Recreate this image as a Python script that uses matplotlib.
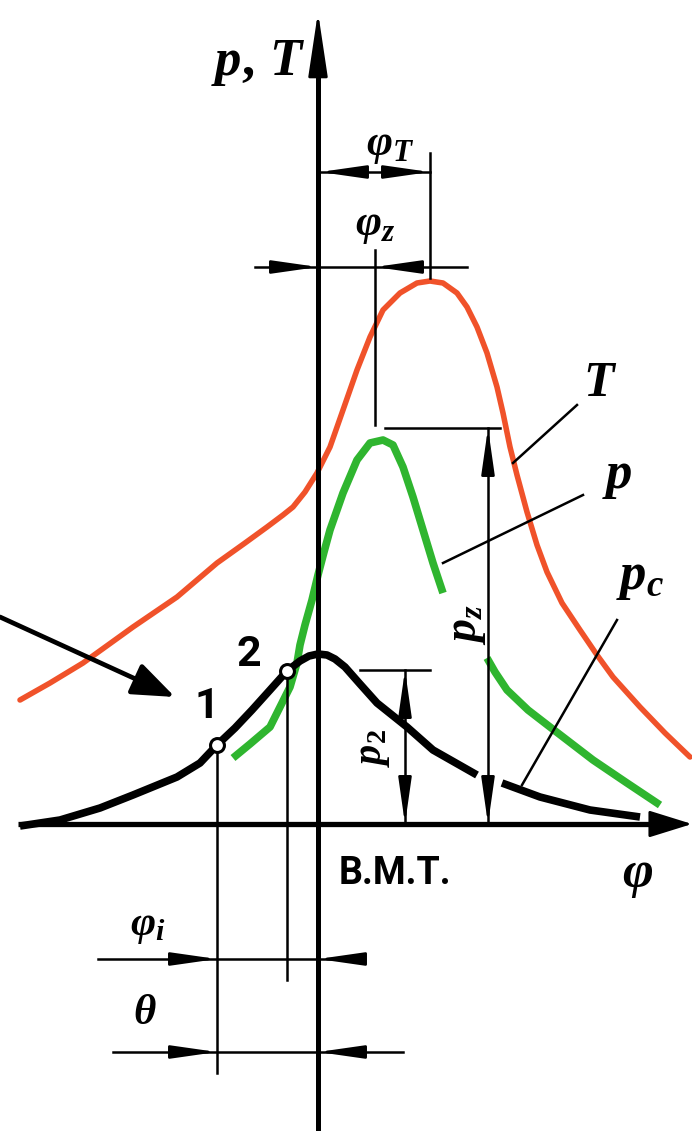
import numpy as np
import matplotlib.pyplot as plt

# diagram units: phi along x (0 = B.M.T.), p/T along y (0 = phi axis)
T_phi = [-298, -268, -235, -185, -141, -101, -73, -51, -35, -25, -13, -1, 12, 25, 39,
         52, 65, 82, 99, 112, 125, 139, 149, 159, 169, 179, 185, 192, 199, 209, 219,
         229, 244, 262, 279, 295, 322, 347, 372]
T_val = [124, 141, 161, 197, 227, 261, 281, 297, 309, 317, 332, 351, 377, 414, 454,
         487, 514, 531, 541, 543, 541, 531, 517, 497, 471, 437, 411, 377, 349, 312, 279,
         252, 221, 194, 169, 147, 117, 91, 67]

p1_phi = [-85, -68, -48, -38, -28, -21, -18, -13, -6, 0, 6, 12, 25, 39, 52, 65, 75,
          85, 95, 105, 115, 125]
p1_val = [66, 80, 97, 117, 137, 161, 179, 199, 224, 249, 272, 294, 331, 364, 381,
          384, 379, 357, 327, 294, 261, 231]
p2_phi = [169, 177, 189, 210, 232, 275, 309, 342]
p2_val = [166, 152, 134, 114, 97, 64, 41, 19]

pc1_phi = [-298, -258, -218, -185, -141, -118, -101, -83, -66, -48, -31, -18, -9, 0,
           9, 17, 27, 42, 59, 89, 115, 159]
pc1_val = [-2, 4, 16, 29, 47, 61, 79, 96, 114, 134, 153, 163, 168, 170,
           169, 165, 157, 140, 121, 97, 74, 49]
pc2_phi = [184, 222, 272, 322]
pc2_val = [41, 27, 14, 7]

pt_phi = [-101, -31]      # points 1 and 2
pt_val = [79, 153]

phi_T, phi_z, p_z, p_2 = 112, 57, 396, 154
phi_1, phi_2 = -101, -31

plt.rcParams['mathtext.fontset'] = 'custom'
plt.rcParams['mathtext.it'] = 'Liberation Serif:italic:bold'
plt.rcParams['mathtext.rm'] = 'Liberation Serif:bold'

fig = plt.figure(figsize=(6.92, 11.31), dpi=100)
ax = fig.add_axes([0, 0, 1, 1])
ax.set_xlim(-318, 374)
ax.set_ylim(-307, 824)
ax.axis('off')

RED = '#f0522a'
GREEN = '#2fb52f'
lw_dim = 1.8


def head(tip, base, hl=1.4, hw=0.2, lw=lw_dim, ms=20):
    ax.annotate('', xy=tip, xytext=base,
                arrowprops=dict(arrowstyle='-|>,head_length=%s,head_width=%s' % (hl, hw),
                                color='k', lw=lw, shrinkA=0, shrinkB=0,
                                mutation_scale=ms))


# axes
ax.plot([-300, 360], [0, 0], color='k', lw=3.8, solid_capstyle='butt', zorder=5)
ax.plot([0, 0], [-307, 790], color='k', lw=3.6, solid_capstyle='butt', zorder=5)
head((374, 0), (340, 0), hl=1.35, hw=0.42, lw=2)
head((0, 812), (0, 760), hl=2.0, hw=0.3, lw=2)

# curves
ax.plot(T_phi, T_val, color=RED, lw=4, solid_capstyle='round', solid_joinstyle='round')
ax.plot(p1_phi, p1_val, color=GREEN, lw=5.5, solid_capstyle='butt', solid_joinstyle='round')
ax.plot(p2_phi, p2_val, color=GREEN, lw=5.5, solid_capstyle='butt', solid_joinstyle='round')
ax.plot(pc1_phi, pc1_val, color='k', lw=5.5, solid_capstyle='butt', solid_joinstyle='round', zorder=4)
ax.plot(pc2_phi, pc2_val, color='k', lw=5.5, solid_capstyle='butt', solid_joinstyle='round', zorder=4)
ax.plot(pt_phi, pt_val, 'o', ms=10, mfc='white', mec='k', mew=2.2, zorder=6)

# phi_T dimension
ax.plot([0, phi_T], [652, 652], color='k', lw=lw_dim)
ax.plot([phi_T, phi_T], [671, 546], color='k', lw=lw_dim)
head((2, 652), (40, 652))
head((phi_T, 652), (phi_T - 38, 652))
# phi_z dimension
ax.plot([-63, 149], [557, 557], color='k', lw=lw_dim)
ax.plot([phi_z, phi_z], [574, 399], color='k', lw=lw_dim)
head((0, 557), (-38, 557))
head((phi_z, 557), (phi_z + 38, 557))
# p_z dimension
ax.plot([67, 182], [p_z, p_z], color='k', lw=lw_dim)
ax.plot([170, 170], [0, p_z], color='k', lw=lw_dim)
head((170, p_z), (170, p_z - 42))
head((170, 0), (170, 42))
# p_2 dimension
ax.plot([42, 112], [p_2, p_2], color='k', lw=lw_dim)
ax.plot([87, 87], [0, p_2], color='k', lw=lw_dim)
head((87, p_2), (87, p_2 - 40))
head((87, 0), (87, 40))
# lines down from points 1 and 2
ax.plot([phi_1, phi_1], [79, -249], color='k', lw=lw_dim)
ax.plot([phi_2, phi_2], [153, -156], color='k', lw=lw_dim)
# phi_i dimension
ax.plot([-220, 40], [-135, -135], color='k', lw=lw_dim)
head((phi_1, -135), (phi_1 - 42, -135))
head((0, -135), (30, -135))
# theta dimension
ax.plot([-205, 85], [-228, -228], color='k', lw=lw_dim)
head((phi_1, -228), (phi_1 - 40, -228))
head((0, -228), (42, -228))

# leaders
ax.plot([259, 195], [419, 361], color='k', lw=lw_dim)
ax.plot([265, 125], [329, 261], color='k', lw=lw_dim)
ax.plot([299, 204], [204, 39], color='k', lw=lw_dim)

# pointer arrow to point 1
head((-143, 127), (-318, 207), hl=1.3, hw=0.5, lw=3.4, ms=20)

lab = dict(ha='center', va='center', color='k')
ax.text(-60, 762, r'$p,\,T$', fontsize=38, **lab)
ax.text(72, 680, r'$\varphi_T$', fontsize=32, **lab)
ax.text(57, 600, r'$\varphi_z$', fontsize=32, **lab)
ax.text(282, 442, r'$T$', fontsize=36, **lab)
ax.text(299, 349, r'$p$', fontsize=38, **lab)
ax.text(322, 248, r'$p_c$', fontsize=38, **lab)
ax.text(147, 199, r'$p_z$', fontsize=33, rotation=90, **lab)
ax.text(54, 76, r'$p_2$', fontsize=29, rotation=90, **lab)
ax.text(320, -50, r'$\varphi$', fontsize=38, **lab)
ax.text(-170, -101, r'$\varphi_i$', fontsize=31, **lab)
ax.text(-173, -188, r'$\theta$', fontsize=31, **lab)
ax.text(-111, 117, '1', fontsize=31, family='Roboto', weight='bold', **lab)
ax.text(-69, 169, '2', fontsize=31, family='Roboto', weight='bold', **lab)
ax.text(77, -49, 'В.М.Т.', fontsize=27, family='Roboto', weight='bold', **lab)

fig.savefig('out.png', dpi=100)
